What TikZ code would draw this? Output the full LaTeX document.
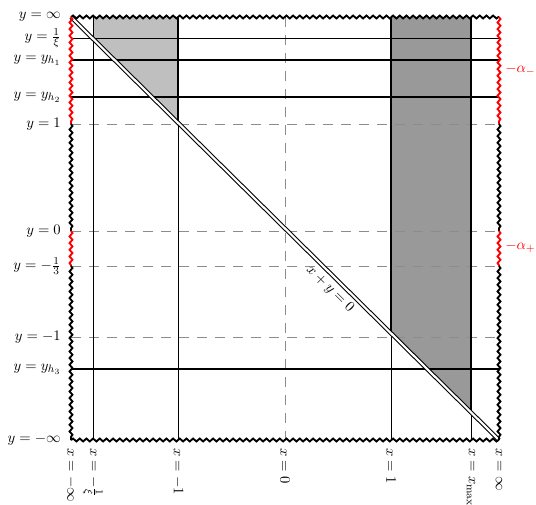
\documentclass[tikz,border=0pt]{standalone}
\usetikzlibrary{decorations.pathmorphing}
\begin{document}
\begin{tikzpicture}[x=0.75pt,y=-0.75pt,
  every node/.style={font=\fontsize{10.95pt}{13pt}\selectfont},
  thinln/.style={line width=0.6pt},
  thickln/.style={line width=1.6pt},
  dashln/.style={black!45, line width=0.6pt, dash pattern=on 7.5pt off 6pt},
  wavy/.style={line width=1.4pt, decorate, decoration={snake, segment length=5pt, amplitude=1.1pt}},
  ylab/.style={anchor=east, inner sep=0pt},
  xlab/.style={anchor=west, rotate=-90, inner sep=0pt},
  alab/.style={anchor=west, inner sep=0pt, red},
]
\useasboundingbox (0,0) rectangle (536,504);
% corners
\coordinate (TL) at (71,17);
\coordinate (TR) at (499,17);
\coordinate (BL) at (71,440);
\coordinate (BR) at (499,440);
% shaded regions
\fill[black!25] (93,17) -- (178,17) -- (178,122.75) -- (93,38.74) -- cycle;
\fill[black!40] (391,17) -- (471,17) -- (471,412.33) -- (391,333.26) -- cycle;
% dashed lines
\draw[dashln] (285,17) -- (285,440);
\draw[dashln] (71,124) -- (499,124);
\draw[dashln] (71,231) -- (499,231);
\draw[dashln] (71,266) -- (499,266);
\draw[dashln] (71,337) -- (499,337);
% thin lines
\draw[thinln] (71,38) -- (499,38);
\draw[thinln] (93,17) -- (93,440);
\draw[thinln] (178,122.75) -- (178,440);
\draw[thinln] (391,333.26) -- (391,440);
\draw[thinln] (471,412.33) -- (471,440);
% thick lines
\draw[thickln] (178,17) -- (178,122.75);
\draw[thickln] (391,17) -- (391,333.26);
\draw[thickln] (471,17) -- (471,412.33);
\draw[thickln] (71,60) -- (499,60);
\draw[thickln] (71,97) -- (499,97);
\draw[thickln] (71,369) -- (499,369);
% diagonal x+y=0
\draw[double, line width=0.8pt, double distance=1.6pt] (TL) -- (BR);
\node[rotate=-44.7] (diaglab) at (330,289) {$x+y=0$};
% wavy border
\draw[wavy] (TL) -- (TR);
\draw[wavy] (BL) -- (BR);
\draw[wavy, red] (71,17) -- (71,124);
\draw[wavy] (71,124) -- (71,231);
\draw[wavy, red] (71,231) -- (71,266);
\draw[wavy] (71,266) -- (BL);
\draw[wavy, red] (499,17) -- (499,124);
\draw[wavy] (499,124) -- (499,231);
\draw[wavy, red] (499,231) -- (499,266);
\draw[wavy] (499,266) -- (BR);
% y labels
\node[ylab] (yinf) at (61,17) {$y=\infty$};
\node[ylab] (yxi) at (61,38) {$y=\frac{1}{\xi}$};
\node[ylab] (yh1) at (61,60) {$y=y_{h_1}$};
\node[ylab] (yh2) at (61,97) {$y=y_{h_2}$};
\node[ylab] (yone) at (61,124) {$y=1$};
\node[ylab] (yzero) at (61,231) {$y=0$};
\node[ylab] (ythird) at (61,266) {$y=-\frac{1}{3}$};
\node[ylab] (ymone) at (61,337) {$y=-1$};
\node[ylab] (yh3) at (61,369) {$y=y_{h_3}$};
\node[ylab] (ymin) at (61,440) {$y=-\infty$};
% x labels
\node[xlab] (xmin) at (71,448) {$x=-\infty$};
\node[xlab] (xxi) at (93,448) {$x=-\frac{1}{\xi}$};
\node[xlab] (xmone) at (178,448) {$x=-1$};
\node[xlab] (xzero) at (285,448) {$x=0$};
\node[xlab] (xone) at (391,448) {$x=1$};
\node[xlab] (xmax) at (471,448) {$x=x_{\max}$};
\node[xlab] (xinf) at (499,448) {$x=\infty$};
% alpha labels
\node[alab] (am) at (505,70) {$-\alpha_-$};
\node[alab] (ap) at (505,247) {$-\alpha_+$};
\end{tikzpicture}
\end{document}
